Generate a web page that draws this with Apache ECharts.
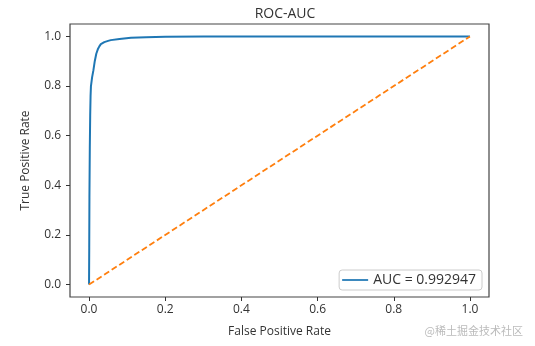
<!DOCTYPE html>
<html>
<head>
<meta charset="utf-8">
<script src="https://cdn.jsdelivr.net/npm/echarts@6/dist/echarts.min.js"></script>
<style>html,body{margin:0;padding:0;background:#fff}#c{width:535px;height:346px}</style>
</head>
<body>
<div id="c"></div>
<script>
var fpr = [0, 0.0005, 0.001, 0.002, 0.003, 0.004, 0.005, 0.008, 0.0115, 0.015, 0.019, 0.023, 0.027, 0.031, 0.04, 0.05, 0.057, 0.08, 0.11, 0.15, 0.2, 0.3, 0.5, 0.7, 1.0];
var tpr = [0, 0.15, 0.35, 0.55, 0.68, 0.76, 0.80, 0.835, 0.864, 0.90, 0.93, 0.948, 0.96, 0.969, 0.977, 0.982, 0.985, 0.99, 0.995, 0.997, 0.999, 1.0, 1.0, 1.0, 1.0];
var diagX = [0, 1];
var diagY = [0, 1];
var tickVals = [0, 0.2, 0.4, 0.6, 0.8, 1.0];
var aucLabel = 'AUC = 0.992947';
var titleText = 'ROC-AUC';
var xName = 'False Positive Rate';
var yName = 'True Positive Rate';

var font = 'Open Sans';
var chart = echarts.init(document.getElementById('c'), null, {renderer: 'canvas'});
function axis(name, gap, margin) {
  return {
    type: 'value', min: -0.05, max: 1.05,
    splitLine: {show: false},
    axisLine: {show: false, onZero: false},
    axisTick: {show: true, customValues: tickVals, length: 4, lineStyle: {color: '#333'}},
    axisLabel: {customValues: tickVals, color: '#333', fontFamily: font, fontSize: 12, margin: margin,
      formatter: function (v) { return v.toFixed(1); }},
    name: name, nameGap: gap, nameLocation: 'middle',
    nameTextStyle: {color: '#333', fontFamily: font, fontSize: 12}
  };
}
chart.setOption({
  animation: false,
  title: {text: titleText, left: 280, top: 2, textAlign: 'center',
    textStyle: {fontFamily: font, fontSize: 14, fontWeight: 'normal', color: '#333'}},
  grid: {left: 70, right: 46, top: 24, bottom: 49, show: true, borderColor: '#444', borderWidth: 1.2, backgroundColor: 'transparent'},
  xAxis: axis(xName, 29, 7),
  yAxis: axis(yName, 38, 9),
  legend: {
    data: [{name: aucLabel, icon: 'path://M0,0 L30,0 L30,2 L0,2 Z'}],
    right: 53, bottom: 56, orient: 'vertical',
    itemWidth: 26, itemHeight: 2, itemGap: 0,
    backgroundColor: '#fff', borderColor: '#ccc', borderWidth: 1, borderRadius: 3,
    padding: [3, 6, 3, 3],
    textStyle: {fontFamily: font, fontSize: 14, color: '#333'}
  },
  graphic: [{type: 'text', right: 12, bottom: 10,
    style: {text: '@稀土掘金技术社区', fill: '#bbb', font: '11px "Noto Sans CJK SC"'}}],
  series: [
    {name: aucLabel, type: 'line', data: fpr.map(function (x, i) { return [x, tpr[i]]; }),
      showSymbol: false, smooth: false, lineStyle: {color: '#1f77b4', width: 2}, itemStyle: {color: '#1f77b4'}},
    {name: 'diag', type: 'line', data: diagX.map(function (x, i) { return [x, diagY[i]]; }),
      showSymbol: false, lineStyle: {color: '#ff7f0e', width: 1.8, type: [6, 3]}, itemStyle: {color: '#ff7f0e'}}
  ]
});
</script>
</body>
</html>
